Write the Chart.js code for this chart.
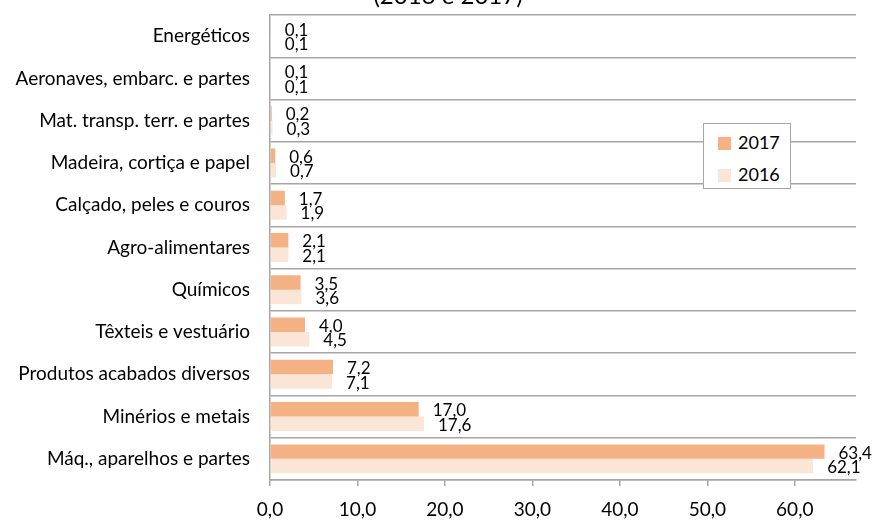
<!DOCTYPE html>
<html>
<head>
<meta charset="utf-8">
<script src="https://cdn.jsdelivr.net/npm/chart.js@4/dist/chart.umd.min.js"></script>
<style>
  html, body { margin: 0; padding: 0; background: #fff; }
  #wrap { position: relative; width: 874px; height: 521px; overflow: hidden; }
  #legend { position: absolute; left: 703px; top: 123px; width: 86px; height: 64px;
            border: 1.5px solid #a6a6a6; background: #fff; font-family: Lato, sans-serif;
            font-size: 18px; color: #000; box-sizing: content-box; }
  .li { position: absolute; left: 14px; height: 20px; line-height: 20px; }
  .sw { display: inline-block; width: 13px; height: 13px; vertical-align: middle; margin-right: 7px; position: relative; top: -1px; }
</style>
</head>
<body>
<div id="wrap">
  <canvas id="c" width="874" height="521"></canvas>
  <div id="legend"></div>
</div>
<script>
const categories = [
  "Energéticos",
  "Aeronaves, embarc. e partes",
  "Mat. transp. terr. e partes",
  "Madeira, cortiça e papel",
  "Calçado, peles e couros",
  "Agro-alimentares",
  "Químicos",
  "Têxteis e vestuário",
  "Produtos acabados diversos",
  "Minérios e metais",
  "Máq., aparelhos e partes"
];
const values2017 = [0.1, 0.1, 0.2, 0.6, 1.7, 2.1, 3.5, 4.0, 7.2, 17.0, 63.4];
const values2016 = [0.1, 0.1, 0.3, 0.7, 1.9, 2.1, 3.6, 4.5, 7.1, 17.6, 62.1];
const seriesLabels = ["2017", "2016"];
const titleText = "(2016 e 2017)";
const xTicks = [0, 10, 20, 30, 40, 50, 60];

const FONT = "Lato, sans-serif";
const fmt = v => v.toFixed(1).replace('.', ',');

const colors = ["#F4B183", "#FBE5D6"];

const labelPlugin = {
  id: 'valueLabels',
  afterDatasetsDraw(chart) {
    const ctx = chart.ctx;
    ctx.save();
    ctx.font = "17px " + FONT;
    ctx.fillStyle = "#000";
    ctx.textAlign = "left";
    ctx.textBaseline = "middle";
    chart.data.datasets.forEach((ds, di) => {
      const meta = chart.getDatasetMeta(di);
      meta.data.forEach((bar, i) => {
        ctx.fillText(fmt(ds.data[i]), bar.x + 14, bar.y + 1.5);
      });
    });
    ctx.restore();
  }
};

const titlePlugin = {
  id: 'cutTitle',
  afterDraw(chart) {
    const ctx = chart.ctx;
    ctx.save();
    ctx.font = "24px " + FONT;
    ctx.fillStyle = "#000";
    ctx.textAlign = "center";
    ctx.textBaseline = "alphabetic";
    ctx.fillText(titleText, 448, 3.5);
    ctx.restore();
  }
};

const chart = new Chart(document.getElementById('c'), {
  type: 'bar',
  data: {
    labels: categories,
    datasets: [
      { label: seriesLabels[0], data: values2017, backgroundColor: colors[0], borderWidth: 0 },
      { label: seriesLabels[1], data: values2016, backgroundColor: colors[1], borderWidth: 0 }
    ]
  },
  options: {
    indexAxis: 'y',
    responsive: false,
    animation: false,
    devicePixelRatio: 1,
    layout: { padding: { top: 15, right: 18, left: 0, bottom: 0 } },
    datasets: { bar: { categoryPercentage: 0.685, barPercentage: 1.0 } },
    plugins: {
      legend: { display: false },
      title: { display: false },
      tooltip: { enabled: false }
    },
    scales: {
      x: {
        min: 0,
        max: 67,
        afterFit(scale) { scale.height = 41; scale.paddingLeft = 0; scale.paddingRight = 0; },
        afterBuildTicks(scale) { scale.ticks = xTicks.map(v => ({ value: v })); },
        ticks: {
          callback: v => fmt(v),
          font: { family: FONT, size: 19 },
          color: "#000",
          padding: 12,
          maxRotation: 0
        },
        grid: { drawOnChartArea: false, drawTicks: true, tickLength: 6, color: "#a6a6a6", lineWidth: 1.5 },
        border: { display: true, color: "#a6a6a6", width: 1.5 }
      },
      y: {
        afterFit(scale) { scale.width = 270; scale.paddingTop = 0; scale.paddingBottom = 0; },
        ticks: {
          font: { family: FONT, size: 19 },
          color: "#000",
          padding: 20,
          autoSkip: false
        },
        grid: { offset: true, drawTicks: false, color: "#a6a6a6", lineWidth: 1.5 },
        border: { display: true, color: "#a6a6a6", width: 1.5 }
      }
    }
  },
  plugins: [labelPlugin, titlePlugin]
});

// legend built from datasets
const lg = document.getElementById('legend');
chart.data.datasets.forEach((ds, i) => {
  const d = document.createElement('div');
  d.className = 'li';
  d.style.top = (i === 0 ? 8 : 40) + 'px';
  d.innerHTML = '<span class="sw" style="background:' + ds.backgroundColor + '"></span>' + ds.label;
  lg.appendChild(d);
});
</script>
</body>
</html>
